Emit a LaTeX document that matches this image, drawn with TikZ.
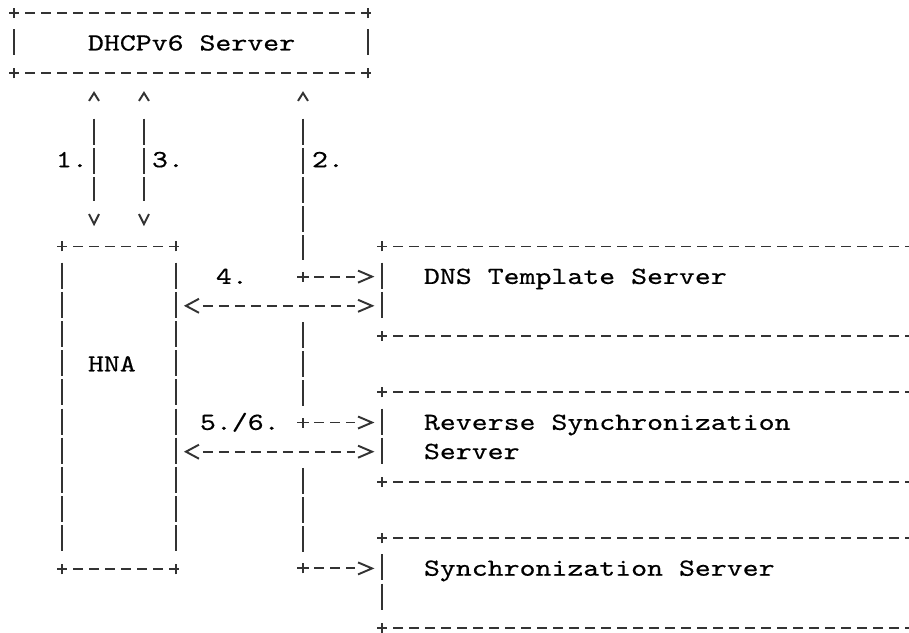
\documentclass[tikz,border=0pt]{standalone}
\usepackage{graphicx}
\usepackage{fontspec}
\usetikzlibrary{arrows.meta}

\newfontfamily\asciifont{lmmono10-regular}[Extension=.otf, FakeBold=0.4]

\makeatletter
% open chevron tip, like the ascii ^ v < >
\pgfdeclarearrow{
  name = Chev,
  defaults = {length=4pt, width=4pt, inset=1pt},
  setup code = {
    \pgfarrowssettipend{0pt}
    \pgf@xa=\pgfarrowlength
    \advance\pgf@xa by \pgfarrowinset
    \pgfarrowssetlineend{-\pgf@xa}
    \pgfarrowshullpoint{0pt}{0pt}
    \pgfarrowsupperhullpoint{-\pgfarrowlength}{.5\pgfarrowwidth}
    \pgfarrowssavethe\pgflinewidth
    \pgfarrowssavethe\pgfarrowlength
    \pgfarrowssavethe\pgfarrowwidth
    \pgfarrowssavethe\pgfarrowinset
  },
  drawing code = {
    \pgfsetdash{}{0pt}
    \pgfsetlinewidth{\pgflinewidth}
    \pgfsetmiterjoin
    \pgfpathmoveto{\pgfpoint{-\pgfarrowlength}{.5\pgfarrowwidth}}
    \pgfpathlineto{\pgfpointorigin}
    \pgfpathlineto{\pgfpoint{-\pgfarrowlength}{-.5\pgfarrowwidth}}
    \pgfusepathqstroke
  },
  parameters = {\the\pgflinewidth,\the\pgfarrowlength,\the\pgfarrowwidth,\the\pgfarrowinset},
}
\makeatother

\newcommand{\asc}[1]{\scalebox{1.234}[1]{#1}}
\newcommand{\asciibox}[1]{%
  \draw[hdash] ([xshift=-0.1cm]#1.north west) -- ([xshift=0.1cm]#1.north east);
  \draw[hdash] ([xshift=-0.1cm]#1.south west) -- ([xshift=0.1cm]#1.south east);
  \draw[vdash] ([yshift=-0.3236cm]#1.north west) -- ([yshift=0.3236cm]#1.south west);
  \draw[vdash] ([yshift=-0.3236cm]#1.north east) -- ([yshift=0.3236cm]#1.south east);
  \foreach \k in {north west,north east,south west,south east}
    \draw ([yshift=-0.1cm]#1.\k) -- ([yshift=0.1cm]#1.\k);
}

\begin{document}
\begin{tikzpicture}[x=0.32cm, y=-0.5836cm, line width=1.1pt, draw=black!80,
    box/.style={rectangle, inner sep=0pt, draw=none},
    txt/.style={anchor=base west, inner sep=0pt, font=\fontsize{14pt}{16pt}\asciifont},
    hdash/.style={dash pattern=on 0.2cm off 0.12cm},
    vdash/.style={dash pattern=on 0.52cm off 0.0636cm},
    ]
    \useasboundingbox (-0.9375,-0.48) rectangle (55.875,21.21);
    \clip (-0.9375,-0.48) rectangle (55.875,21.21);

    % boxes
    \node[box, minimum width=7.04cm, minimum height=1.1672cm] (dhcp) at (11,1) {};
    \node[box, minimum width=2.24cm, minimum height=6.4196cm] (hna) at (6.5,13.5) {};
    \node[box, minimum width=11.2cm, minimum height=1.7508cm] (dns) at (40.5,9.5) {};
    \node[box, minimum width=11.2cm, minimum height=1.7508cm] (rsync) at (40.5,14.5) {};
    \node[box, minimum width=11.2cm, minimum height=1.7508cm] (sync) at (40.5,19.5) {};
    \asciibox{dhcp}
    \asciibox{hna}
    \asciibox{dns}
    \asciibox{rsync}
    \asciibox{sync}

    % box texts
    \node[txt] (dhcpL) at (4.5,1.25) {\asc{DHCPv6 Server}};
    \node[txt] (hnaL) at (4.5,12.25) {\asc{HNA}};
    \node[txt] (dnsL) at (25.5,9.25) {\asc{DNS Template Server}};
    \node[txt] (rsyncL) at (25.5,14.25) {\asc{Reverse Synchronization}};
    \node[txt] (rsyncM) at (25.5,15.25) {\asc{Server}};
    \node[txt] (syncL) at (25.5,19.25) {\asc{Synchronization Server}};

    % step numbers
    \node[txt] (s1) at (2.5,5.25) {\asc{1.}};
    \node[txt] (s3) at (8.5,5.25) {\asc{3.}};
    \node[txt] (s2) at (18.5,5.25) {\asc{2.}};
    \node[txt] (s4) at (12.5,9.25) {\asc{4.}};
    \node[txt] (s56) at (11.5,14.25) {\asc{5./6.}};

    % hna <-> dhcpv6 server
    \coordinate (hnaA) at ([xshift=0.64cm]hna.north west);
    \coordinate (hnaB) at ([xshift=-0.64cm]hna.north east);
    \draw[vdash, {Chev[length=0.16cm,width=0.2cm,inset=0.354cm]}-{Chev[length=0.2cm,width=0.2cm,inset=0.258cm]},
      shorten <=0.392cm, shorten >=0.448cm] (dhcp.south -| hnaA) -- (hnaA);
    \draw[vdash, {Chev[length=0.16cm,width=0.2cm,inset=0.354cm]}-{Chev[length=0.2cm,width=0.2cm,inset=0.258cm]},
      shorten <=0.392cm, shorten >=0.448cm] (dhcp.south -| hnaB) -- (hnaB);

    % dhcpv6 server -> servers
    \coordinate (tDns) at (18,9);
    \coordinate (tRev) at (18,14);
    \coordinate (tSync) at (18,19);
    \draw[vdash, {Chev[length=0.16cm,width=0.2cm,inset=0.354cm]}-,
      shorten <=0.392cm, shorten >=0.324cm] (dhcp.south -| tDns) -- (tDns);
    \draw[vdash, shorten <=0.908cm, shorten >=0.324cm] (tDns) -- (tRev);
    \draw[vdash, shorten <=0.908cm, shorten >=0.324cm] (tRev) -- (tSync);
    \foreach \j in {tDns,tRev,tSync}
      \draw ([xshift=-0.12cm]\j) -- ([xshift=0.12cm]\j) ([yshift=-0.1cm]\j) -- ([yshift=0.1cm]\j);
    \draw[hdash, -{Chev[length=0.28cm,width=0.24cm,inset=0.06cm]},
      shorten <=0.22cm, shorten >=0.2cm] (tDns) -- (tDns -| dns.west);
    \draw[hdash, -{Chev[length=0.28cm,width=0.24cm,inset=0.06cm]},
      shorten <=0.22cm, shorten >=0.2cm] (tRev) -- (tRev -| rsync.west);
    \draw[hdash, -{Chev[length=0.28cm,width=0.24cm,inset=0.06cm]},
      shorten <=0.22cm, shorten >=0.2cm] (tSync) -- (tSync -| sync.west);

    % hna <-> servers
    \coordinate (hnaDns) at (hna.east |- 0,10);
    \coordinate (hnaRev) at (hna.east |- 0,15);
    \draw[hdash, {Chev[length=0.26cm,width=0.28cm,inset=0.08cm]}-{Chev[length=0.28cm,width=0.24cm,inset=0.06cm]},
      shorten <=0.2cm, shorten >=0.2cm] (hnaDns) -- (hnaDns -| dns.west);
    \draw[hdash, {Chev[length=0.26cm,width=0.28cm,inset=0.08cm]}-{Chev[length=0.28cm,width=0.24cm,inset=0.06cm]},
      shorten <=0.2cm, shorten >=0.2cm] (hnaRev) -- (hnaRev -| rsync.west);
\end{tikzpicture}
\end{document}
